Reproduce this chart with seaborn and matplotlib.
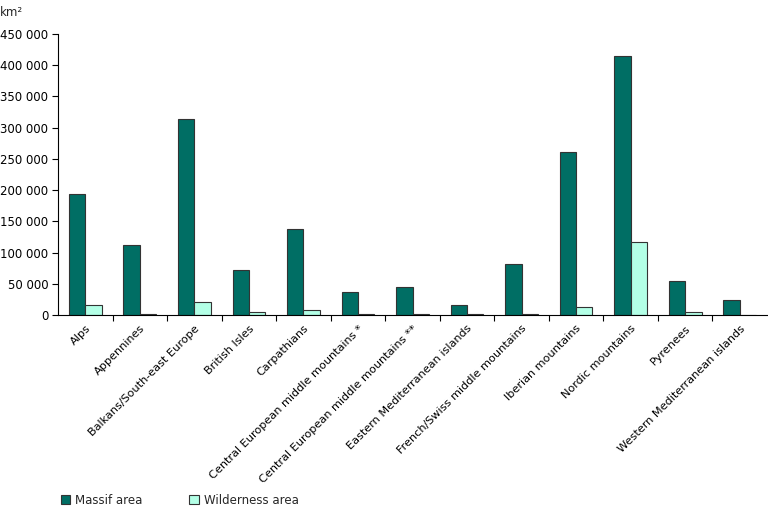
import matplotlib
matplotlib.use("Agg")
import matplotlib.pyplot as plt
import seaborn as sns
import pandas as pd
import numpy as np
from matplotlib.patches import Patch
from matplotlib.ticker import FuncFormatter, FixedLocator

categories = ["Alps", "Appennines", "Balkans/South-east Europe", "British Isles",
              "Carpathians", "Central European middle mountains *",
              "Central European middle mountains **", "Eastern Mediterranean islands",
              "French/Swiss middle mountains", "Iberian mountains", "Nordic mountains",
              "Pyrenees", "Western Mediterranean islands"]
massif = [193000, 111500, 314500, 72300, 138000, 37500, 45000, 16600, 81500,
          261500, 415000, 54700, 24000]
wilderness = [16000, 1500, 20400, 5400, 7500, 1500, 1500, 1000, 1000,
              12900, 117000, 5400, 0]
series = ["Massif area", "Wilderness area"]
colors = ["#006E64", "#B3FFE6"]

df = pd.DataFrame({
    "Region": categories * 2,
    "Area": massif + wilderness,
    "Type": [series[0]] * len(categories) + [series[1]] * len(categories),
})

sns.set_theme(style="white")
plt.rcParams['font.family'] = ['DejaVu Sans']

fig = plt.figure(figsize=(7.68, 5.08), dpi=100)
ax = fig.add_axes([58/768, 1 - 315/508, (767-58)/768, (315-34)/508])

sns.barplot(data=df, x="Region", y="Area", hue="Type", palette=colors,
            width=0.6, edgecolor="#333333", linewidth=0.8, ax=ax, legend=False,
            saturation=1)

ax.set_ylim(0, 450000)
ax.set_xlim(-0.5, len(categories) - 0.5)
ax.set_yticks(np.arange(0, 450001, 50000))
ax.yaxis.set_major_formatter(FuncFormatter(lambda v, p: f"{int(v):,}".replace(",", " ")))
ax.tick_params(axis="y", direction="out", length=4, width=0.8, color="black",
               labelsize=8.5, labelcolor="black", left=True, pad=3)
ax.set_xticks(range(len(categories)))
ax.set_xticklabels(categories, rotation=45, ha="right", rotation_mode="anchor",
                   fontsize=8.1, color="black")
ax.tick_params(axis="x", which="major", length=0, pad=6)
ax.xaxis.set_minor_locator(FixedLocator(np.arange(0.5, len(categories) - 0.5, 1)))
ax.tick_params(axis="x", which="minor", direction="out", length=4, width=0.8,
               color="black", bottom=True)
ax.set_xlabel("")
ax.set_ylabel("")
for s in ["top", "right"]:
    ax.spines[s].set_visible(False)
for s in ["left", "bottom"]:
    ax.spines[s].set_color("black")
    ax.spines[s].set_linewidth(0.8)

fig.text(0.0, 1 - 12/508, "km²", fontsize=8.5, va="center", ha="left")

handles = [Patch(facecolor=c, edgecolor="#333333", linewidth=0.8) for c in colors]
fig.legend(handles, series, loc="center left", bbox_to_anchor=(56/768, 1 - 500/508),
           ncol=2, frameon=False, fontsize=8.5, handlelength=0.8, handleheight=0.8,
           handletextpad=0.4, columnspacing=4.0, borderaxespad=0)

fig.savefig("out.png", dpi=100)
